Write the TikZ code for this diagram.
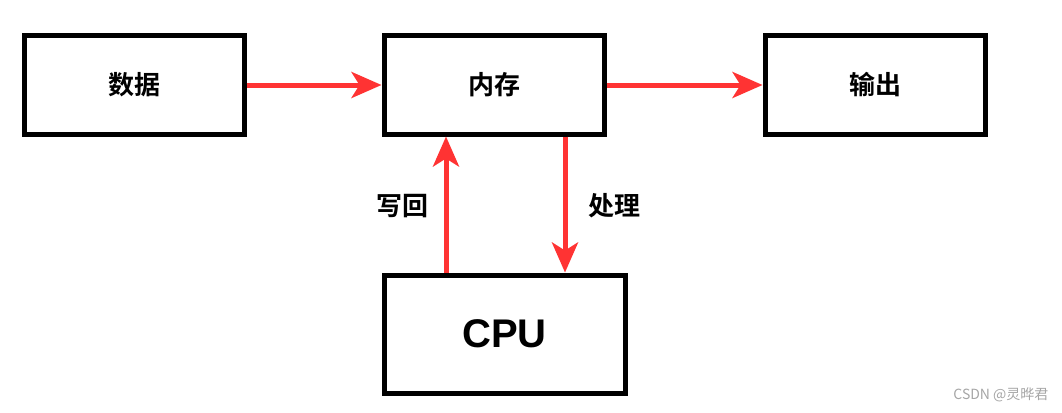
\documentclass[tikz,border=0pt]{standalone}
\usepackage{fontspec}
\setmainfont{Liberation Sans}
\newfontfamily\cjk{Noto Sans CJK SC}[BoldFont={Noto Sans CJK SC Bold}]
\usetikzlibrary{arrows.meta}
\definecolor{ar}{HTML}{FF3333}
\begin{document}
\begin{tikzpicture}[x=1pt,y=-1pt,
  box/.style={draw=black,line width=5pt,inner sep=0pt,font=\cjk\bfseries\fontsize{26}{30}\selectfont},
  arr/.style={draw=ar,line width=5pt,-{Stealth[length=30pt,width=26pt,inset=8pt]}},
  lbl/.style={font=\cjk\bfseries\fontsize{26}{30}\selectfont}]
\useasboundingbox[fill=white] (0,0) rectangle (1062,412);
\node[box,minimum width=220pt,minimum height=98pt] (data) at (134,85) {数据};
\node[box,minimum width=220pt,minimum height=98pt] (mem) at (494,85) {内存};
\node[box,minimum width=220pt,minimum height=98pt] (out) at (875,85) {输出};
\node[box,minimum width=241pt,minimum height=118pt,font=\bfseries\fontsize{40}{46}\selectfont] (cpu) at (504.5,334) {CPU};
\draw[arr] (data.east) -- (mem.west);
\draw[arr] (mem.east) -- (out.west);
\draw[arr] (cpu.north -| 446,0) -- (mem.south -| 446,0);
\draw[arr] (mem.south -| 565,0) -- (cpu.north -| 565,0);
\node[lbl] (wb) at (402,206) {写回};
\node[lbl] (proc) at (614,206) {处理};
\node[font=\cjk\fontsize{14}{16}\selectfont,text=gray!70,anchor=east] (wm) at (1052,395) {CSDN @灵晔君};
\end{tikzpicture}
\end{document}
